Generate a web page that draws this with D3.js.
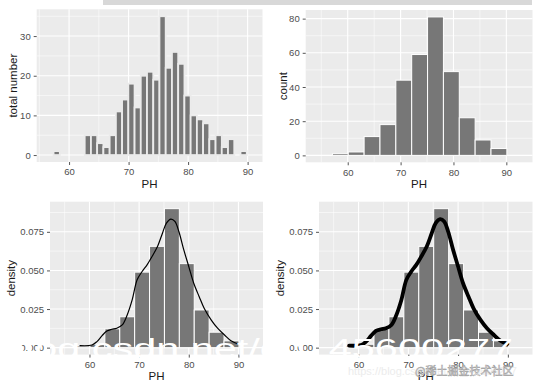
<!DOCTYPE html>
<html>
<head>
<meta charset="utf-8">
<script src="https://cdn.jsdelivr.net/npm/d3@7"></script>
<style>
  body { margin: 0; background: #fff; }
  svg { display: block; font-family: "Liberation Sans", Arial, sans-serif; }
</style>
</head>
<body>
<div id="chart"></div>
<script>
// top left: narrow bins (centre of each bin on PH) and counts
var phCentres = [57.92, 63.15, 64.20, 65.24, 66.29, 67.34, 68.39, 69.43, 70.48, 71.53, 72.57, 73.62, 74.67,
                 75.71, 76.76, 77.81, 78.86, 79.90, 80.95, 82.00, 83.04, 84.09, 85.14, 86.18, 87.23, 89.33];
var phCounts = [1, 5, 5, 3, 2, 5, 11, 14, 18, 12, 20, 21, 19, 35, 22, 26, 23, 15, 10, 9, 8, 4, 5, 2, 4, 1];
var narrowWidth = 1.047;

// other panels: bins of width 3
var binStarts = [57.1, 60.1, 63.1, 66.1, 69.1, 72.1, 75.1, 78.1, 81.1, 84.1, 87.1];
var binCounts = [1, 2, 11, 18, 44, 59, 81, 49, 22, 9, 4];
var binDensity = [0.0011, 0.0022, 0.0122, 0.0200, 0.0489, 0.0656, 0.0900, 0.0544, 0.0244, 0.0100, 0.0044];
var binWidth = 3;

// density curve
var kdeX = [58.1, 60.5, 61.5, 62.5, 63.5, 64.5, 65.5, 66.6, 67.6, 68.6, 69.6, 70.6, 71.6, 72.6, 73.7, 74.7,
            75.5, 76.4, 77.2, 78.0, 79.0, 80.0, 81.0, 82.1, 83.1, 84.5, 85.8, 87.2, 88.5, 89.9];
var kdeY = [0.0013, 0.0017, 0.0039, 0.0076, 0.0108, 0.0119, 0.0126, 0.0147, 0.0212, 0.0309, 0.0439, 0.0493,
            0.0536, 0.0590, 0.0655, 0.0741, 0.0806, 0.0832, 0.0817, 0.0752, 0.0633, 0.0525, 0.0417, 0.0330,
            0.0255, 0.0180, 0.0126, 0.0082, 0.0045, 0.0024];

var xTicks = [60, 70, 80, 90];
var xMinor = [55, 65, 75, 85];

var svg = d3.select("#chart").append("svg")
  .attr("width", 539)
  .attr("height", 389);

svg.append("rect").attr("width", 539).attr("height", 389).attr("fill", "#fff");

// faint strip left over at the top of the screenshot
svg.append("rect")
  .attr("x", 103).attr("y", 0).attr("width", 429).attr("height", 5)
  .attr("fill", "#d8d8d8");

function drawPanel(p) {
  var g = svg.append("g");
  var x = d3.scaleLinear().domain(p.xDomain).range([p.left, p.right]);
  var y = d3.scaleLinear().domain(p.yDomain).range([p.bottom, p.top]);

  g.append("rect")
    .attr("x", p.left).attr("y", p.top)
    .attr("width", p.right - p.left).attr("height", p.bottom - p.top)
    .attr("fill", "#ebebeb");

  // grid
  g.selectAll(".xmin").data(xMinor).enter().append("line")
    .attr("x1", d => x(d)).attr("x2", d => x(d))
    .attr("y1", p.top).attr("y2", p.bottom)
    .attr("stroke", "#fff").attr("stroke-width", 0.55);
  g.selectAll(".ymin").data(p.yMinor).enter().append("line")
    .attr("x1", p.left).attr("x2", p.right)
    .attr("y1", d => y(d)).attr("y2", d => y(d))
    .attr("stroke", "#fff").attr("stroke-width", 0.55);
  g.selectAll(".xmaj").data(xTicks).enter().append("line")
    .attr("x1", d => x(d)).attr("x2", d => x(d))
    .attr("y1", p.top).attr("y2", p.bottom)
    .attr("stroke", "#fff").attr("stroke-width", 1.1);
  g.selectAll(".ymaj").data(p.yTicks).enter().append("line")
    .attr("x1", p.left).attr("x2", p.right)
    .attr("y1", d => y(d)).attr("y2", d => y(d))
    .attr("stroke", "#fff").attr("stroke-width", 1.1);

  // axes
  var xAxis = g.append("g")
    .attr("transform", `translate(0, ${p.bottom})`)
    .call(d3.axisBottom(x).tickValues(xTicks).tickSize(3).tickPadding(3.5));
  var yAxis = g.append("g")
    .attr("transform", `translate(${p.left}, 0)`)
    .call(d3.axisLeft(y).tickValues(p.yTicks).tickSize(3).tickPadding(3).tickFormat(p.yFormat));
  [xAxis, yAxis].forEach(a => {
    a.select(".domain").remove();
    a.selectAll(".tick line").attr("stroke", "#555");
    a.selectAll(".tick text")
      .attr("fill", "#4d4d4d")
      .attr("font-size", 9.5)
      .attr("font-family", "Liberation Sans, Arial, sans-serif");
  });

  // titles
  g.append("text")
    .attr("x", (p.left + p.right) / 2)
    .attr("y", p.titleY)
    .attr("text-anchor", "middle")
    .attr("font-size", 11.5)
    .attr("fill", "#1a1a1a")
    .text("PH");
  g.append("text")
    .attr("transform", `translate(${p.yTitleX}, ${(p.top + p.bottom) / 2})rotate(-90)`)
    .attr("text-anchor", "middle")
    .attr("font-size", 11.5)
    .attr("fill", "#1a1a1a")
    .text(p.yTitle);

  return { g: g, x: x, y: y };
}

var barFill = "#777777";

// top left
var p1 = drawPanel({
  left: 36.7, right: 262.5, top: 9.3, bottom: 162,
  xDomain: [54.56, 92.5], yDomain: [-1.75, 36.75],
  yTicks: [0, 10, 20, 30], yMinor: [5, 15, 25, 35], yFormat: d3.format("d"),
  titleY: 187.5, yTitleX: 16.5, yTitle: "total number"
});
p1.g.selectAll(".bar").data(phCentres).enter().append("rect")
  .attr("x", d => p1.x(d - narrowWidth / 2))
  .attr("width", d => p1.x(d + narrowWidth / 2) - p1.x(d - narrowWidth / 2))
  .attr("y", (d, i) => p1.y(phCounts[i]))
  .attr("height", (d, i) => p1.y(0) - p1.y(phCounts[i]))
  .attr("fill", barFill)
  .attr("stroke", "#ebebeb")
  .attr("stroke-width", 1.8);

// top right
var p2 = drawPanel({
  left: 305.7, right: 532.5, top: 10, bottom: 162.3,
  xDomain: [52.05, 94.95], yDomain: [-4.05, 85.05],
  yTicks: [0, 20, 40, 60, 80], yMinor: [10, 30, 50, 70], yFormat: d3.format("d"),
  titleY: 187.5, yTitleX: 286.5, yTitle: "count"
});
p2.g.selectAll(".bar").data(binStarts).enter().append("rect")
  .attr("x", d => p2.x(d))
  .attr("width", d => p2.x(d + binWidth) - p2.x(d))
  .attr("y", (d, i) => p2.y(binCounts[i]))
  .attr("height", (d, i) => p2.y(0) - p2.y(binCounts[i]))
  .attr("fill", barFill)
  .attr("stroke", "#fff")
  .attr("stroke-width", 1);

// bottom panels: density histogram + curve
function densityPanel(left, right, yTitleX, lineWidth) {
  var p = drawPanel({
    left: left, right: right, top: 201.7, bottom: 354.6,
    xDomain: [52.05, 94.95], yDomain: [-0.0045, 0.0945],
    yTicks: [0, 0.025, 0.05, 0.075], yMinor: [0.0125, 0.0375, 0.0625, 0.0875], yFormat: d3.format(".3f"),
    titleY: 380, yTitleX: yTitleX, yTitle: "density"
  });
  p.g.selectAll(".bar").data(binStarts).enter().append("rect")
    .attr("x", d => p.x(d))
    .attr("width", d => p.x(d + binWidth) - p.x(d))
    .attr("y", (d, i) => p.y(binDensity[i]))
    .attr("height", (d, i) => p.y(0) - p.y(binDensity[i]))
    .attr("fill", barFill)
    .attr("stroke", "#fff")
    .attr("stroke-width", 1);

  var line = d3.line()
    .x(d => p.x(d))
    .y((d, i) => p.y(kdeY[i]))
    .curve(d3.curveCatmullRom);
  p.g.append("path")
    .datum(kdeX)
    .attr("d", line)
    .attr("fill", "none")
    .attr("stroke", "#000")
    .attr("stroke-width", lineWidth)
    .attr("stroke-linecap", "round")
    .attr("stroke-linejoin", "round");
}

densityPanel(50, 263, 14.5, 1.2);
densityPanel(319, 532.5, 283.5, 3.8);

// watermarks over the picture
svg.append("text")
  .attr("x", 2).attr("y", 358)
  .attr("font-size", 27)
  .attr("fill", "#fff")
  .attr("textLength", 511)
  .attr("lengthAdjust", "spacingAndGlyphs")
  .text("blog.csdn.net/qq_45600277");

svg.append("text")
  .attr("x", 348).attr("y", 375)
  .attr("font-size", 11)
  .attr("fill", "#ececec")
  .text("https://blog.csdn.net/qq_45600277");

svg.append("text")
  .attr("x", 415).attr("y", 375)
  .attr("font-size", 11)
  .attr("font-family", "'Noto Sans CJK SC', sans-serif")
  .attr("fill", "#fafafa")
  .attr("stroke", "#9a9a9a")
  .attr("stroke-width", 0.5)
  .text("@稀土掘金技术社区");
</script>
</body>
</html>
